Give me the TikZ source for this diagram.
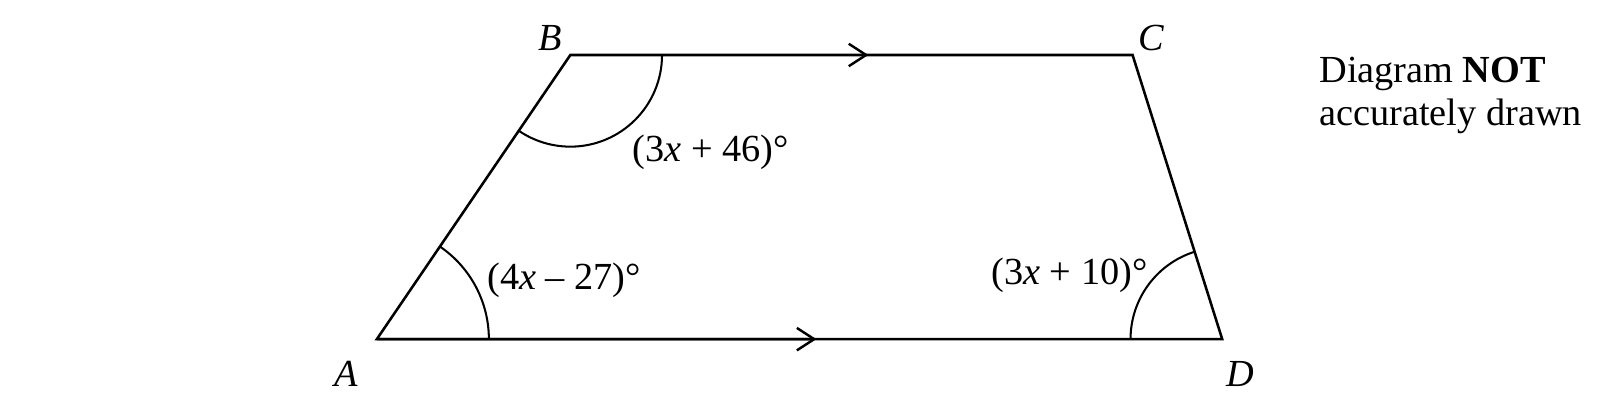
\documentclass[tikz,border=0pt]{standalone}
\usepackage{fontspec}
\setmainfont{Liberation Serif}
\usepackage{tikz}
\usetikzlibrary{arrows.meta}
\usetikzlibrary{calc}

\begin{document}
\begin{tikzpicture}[x=0.5pt,y=0.5pt,
		side/.style={line width=1.25pt},
		angle arc/.style={line width=1pt},
		mid arrow/.style={line width=1.25pt,-{Straight Barb[length=8.5pt,width=11pt,line width=1.2pt]}},
		vertex label/.style={font=\fontsize{18.8}{21}\selectfont\itshape},
		angle label/.style={font=\fontsize{18.8}{21}\selectfont,inner sep=0pt}]

	\useasboundingbox (0,0) rectangle (1568,394);

	\coordinate (a) at (370,61);
	\coordinate (b) at (560,340);
	\coordinate (c) at (1112,340);
	\coordinate (d) at (1200,61);

	% sides
	\draw[side] (a) -- (b) -- (c) -- (d) -- cycle;
	\draw[mid arrow] (b) -- ($(b)!0.53!(c)$);
	\draw[mid arrow] (a) -- ($(a)!0.52!(d)$);

	% angles
	\draw[angle arc] ($(b)+(45pt,0)$) arc[start angle=0,end angle=-124.3,radius=45pt];
	\draw[angle arc] ($(a)+(55pt,0)$) arc[start angle=0,end angle=55.7,radius=55pt];
	\draw[angle arc] ($(d)+(-45pt,0)$) arc[start angle=180,end angle=107.5,radius=45pt];

	\node[vertex label] (la) at (340,27) {A};
	\node[vertex label] (lb) at (540,357) {B};
	\node[vertex label] (lc) at (1130,357) {C};
	\node[vertex label] (ld) at (1218,27) {D};

	\node[angle label,anchor=west] (angb) at (621,244) {(3\textit{x} + 46)°};
	\node[angle label,anchor=west] (anga) at (478,119) {(4\textit{x} – 27)°};
	\node[angle label,anchor=east] (angd) at (1127,124) {(3\textit{x} + 10)°};

	\node[angle label,anchor=north west,align=left] (note) at (1295,338)
		{Diagram \textbf{NOT}\\accurately drawn};
\end{tikzpicture}
\end{document}
